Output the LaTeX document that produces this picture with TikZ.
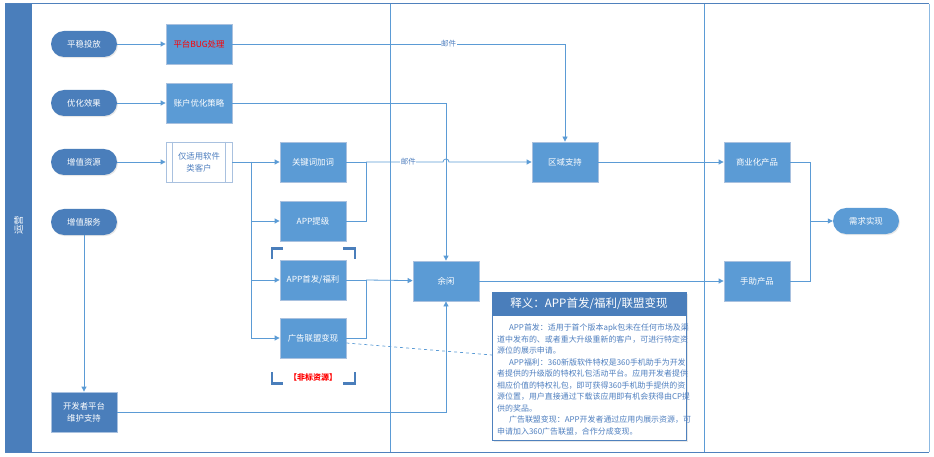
\documentclass[tikz,border=0pt]{standalone}
\usepackage{fontspec}
\setmainfont{Noto Sans CJK SC}
\usetikzlibrary{arrows.meta,calc,shadows}
\definecolor{dark}{HTML}{4A7EBB}
\definecolor{boxb}{HTML}{5B9BD5}
\definecolor{edgec}{HTML}{A9C1DF}
\definecolor{ln}{HTML}{5B9BD5}
\definecolor{framec}{HTML}{4F81BD}
\definecolor{notetext}{HTML}{4F7FBF}
\begin{document}
\begin{tikzpicture}[x=1pt,y=-1pt,
  sh/.style={drop shadow={opacity=0.18,shadow xshift=1pt,shadow yshift=-1.2pt}},
  term/.style={rectangle,rounded corners=13pt,fill=dark,minimum width=66pt,minimum height=26pt,text=white,font=\fontsize{8.4}{10}\selectfont,inner sep=1pt,sh},
  proc/.style={rectangle,fill=boxb,draw=edgec,line width=0.8pt,minimum width=66pt,minimum height=40pt,text=white,font=\fontsize{8.4}{12}\selectfont,align=center,inner sep=1pt,sh},
  subp/.style={rectangle,fill=white,draw=edgec,line width=0.8pt,minimum width=66pt,minimum height=40pt,text=notetext,font=\fontsize{8.4}{12}\selectfont,align=center,inner sep=1pt,sh},
  conn/.style={draw=ln,line width=0.8pt},
  arr/.style={conn,-{Triangle[length=5pt,width=5pt]}},
  lbl/.style={fill=white,inner sep=0.5pt,text=notetext,font=\fontsize{7.5}{9}\selectfont},
  brk/.style={draw=dark,line width=2.4pt}
]
\useasboundingbox (0,0) rectangle (934,457);
% swimlane frame
\fill[dark] (5,4) rectangle (32,452);
\node[rotate=90,text=white,font=\fontsize{9.5}{11}\selectfont] (lane) at (18.5,225) {运营};
\draw[framec,line width=1pt] (5,4) -- (929,4);
\draw[framec,line width=1pt] (5,452) -- (929,452);
\draw[ln,line width=0.9pt] (390,4) -- (390,452);
\draw[ln,line width=0.9pt] (704,4) -- (704,452);
\draw[ln!70,line width=1pt] (929,4) -- (929,452);

% nodes
\node[term] (t1) at (84,44) {平稳投放};
\node[term] (t2) at (84,103) {优化效果};
\node[term] (t3) at (84,162) {增值资源};
\node[term] (t4) at (84,222) {增值服务};
\node[proc,text=red] (bug) at (199,44) {平台BUG处理};
\node[proc] (acct) at (199,103) {账户优化策略};
\node[subp] (soft) at (199,162) {仅适用软件\\类客户};
\draw[edgec,line width=0.8pt] ($(soft.north west)+(7,0)$) -- ($(soft.south west)+(7,0)$);
\draw[edgec,line width=0.8pt] ($(soft.north east)+(-7,0)$) -- ($(soft.south east)+(-7,0)$);
\node[proc] (kw) at (313,162) {关键词加词};
\node[proc] (up) at (313,221) {APP提级};
\node[proc] (fa) at (313,280) {APP首发/福利};
\node[proc] (ad) at (313,338) {广告联盟变现};
\node[proc,fill=dark] (dev) at (84,412) {开发者平台\\维护支持};
\node[proc] (yu) at (446,281) {余闲};
\node[proc] (qy) at (565,162) {区域支持};
\node[proc] (sy) at (757,162) {商业化产品};
\node[proc] (sz) at (757,281) {手助产品};
\node[term,fill=boxb] (xq) at (866,221) {需求实现};

% brackets
\draw[brk] (272,259) -- (272,248.5) -- (283,248.5);
\draw[brk] (343,248.5) -- (355,248.5) -- (355,259);
\draw[brk] (272,372) -- (272,383.5) -- (283,383.5);
\draw[brk] (343,383.5) -- (355,383.5) -- (355,372);
\node[text=red,font=\bfseries\fontsize{8}{9}\selectfont] (fb) at (313,377) {【非标资源】};

% coordinates
\coordinate (b1) at (251,162);
\coordinate (m1) at (366,162);
\coordinate (m2) at (366,280);
\coordinate (m3) at (810,221);
\coordinate (hop) at (443,162);

% connectors
\draw[arr] (t1) -- (bug);
\draw[arr] (t2) -- (acct);
\draw[arr] (t3) -- (soft);
\draw[arr] (t4) -- (dev);
\draw[arr] (bug) -| node[lbl,pos=0.325] {邮件} (qy);
\draw[arr] (acct) -| (yu);
\draw[arr] (soft) -- (kw);
\draw[arr] (b1) |- (up);
\draw[arr] (b1) |- (fa);
\draw[arr] (b1) |- (ad);
\draw[conn] (kw) -- (m1);
\draw[conn] (up) -| (m1);
\draw[arr] (m1) -- node[lbl,pos=0.55] {邮件} (hop) arc[start angle=180,end angle=0,radius=3pt] -- (qy);
\draw[conn] (fa) -- (m2);
\draw[conn] (ad) -| (m2);
\draw[arr] (m2) -- (yu);
\draw[arr] (dev) -| (yu);
\draw[arr] (yu) -- (sz);
\draw[arr] (qy) -- (sy);
\draw[conn] (sy) -| (m3);
\draw[conn] (sz) -| (m3);
\draw[arr] (m3) -- (xq);

% note
\node[draw=framec,line width=1pt,fill=white,minimum width=194pt,minimum height=148pt,anchor=north west,inner sep=0pt,sh] (note) at (492,292) {};
\fill[dark] (note.north west) rectangle ($(note.north east)+(0,24)$);
\node[text=white,font=\fontsize{11.5}{13}\selectfont] (nh) at (589,304) {释义：APP首发/福利/联盟变现};
\node[anchor=north west,text=notetext,align=left,font=\fontsize{7.95}{11.5}\selectfont,inner sep=0pt] (nb) at (497,324) {%
\hspace*{1.5em}APP首发：适用于首个版本apk包未在任何市场及渠\\
道中发布的、或者重大升级重新的客户，可进行特定资\\
源位的展示申请。\\
\hspace*{1.5em}APP福利：360新版软件特权是360手机助手为开发\\
者提供的升级版的特权礼包活动平台。应用开发者提供\\
相应价值的特权礼包，即可获得360手机助手提供的资\\
源位置，用户直接通过下载该应用即有机会获得由CP提\\
供的奖品。\\
\hspace*{1.5em}广告联盟变现：APP开发者通过应用内展示资源，可\\
申请加入360广告联盟，合作分成变现。};
\draw[ln,dashed,line width=0.7pt] ([yshift=-5pt]ad.east) -- ($(note.north west)+(0,63)$);
\end{tikzpicture}
\end{document}
